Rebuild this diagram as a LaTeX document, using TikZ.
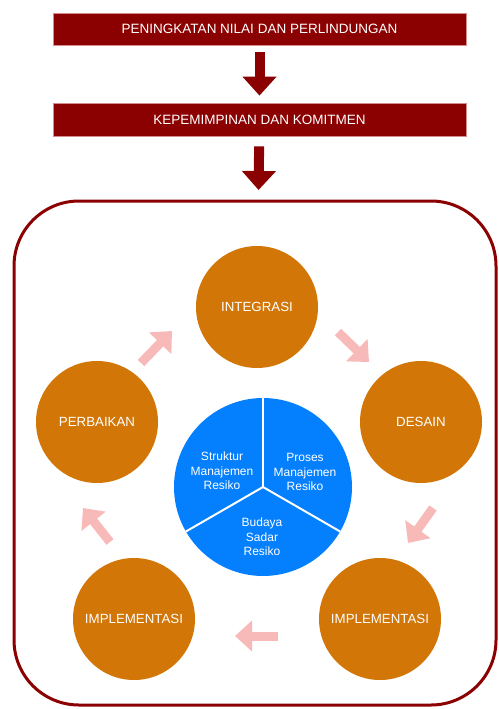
\documentclass[tikz,border=0pt]{standalone}
\usepackage{fontspec}
\setmainfont{Liberation Sans}
\usetikzlibrary{positioning, arrows.meta, calc}

\definecolor{maroon}{RGB}{139,0,0}
\definecolor{boxedge}{RGB}{214,140,140}
\definecolor{ochre}{RGB}{210,118,8}
\definecolor{skyblue}{RGB}{4,128,255}
\definecolor{blush}{RGB}{248,186,184}

\begin{document}
\begin{tikzpicture}[x=1pt, y=-1pt]
				\tikzstyle{banner}=[draw=boxedge, line width=0.8, fill=maroon, text=white, minimum width=413, minimum height=32, font=\fontsize{13.5}{15}\selectfont]
				\tikzstyle{stage}=[circle, fill=ochre, text=white, minimum size=122, inner sep=0, font=\fontsize{13.3}{15}\selectfont]
				\tikzstyle{downarrow}=[maroon, line width=10, -{Triangle[length=19pt, width=33pt]}]
				\tikzstyle{cyclearrow}=[blush, line width=9, -{Triangle[length=17pt, width=30pt]}]
				\tikzstyle{core}=[text=white, align=center, font=\fontsize{12}{14.7}\selectfont]

				\useasboundingbox (0,0) rectangle (498,709);

				\node (nilai) at (259.5,29) [banner] {PENINGKATAN NILAI DAN PERLINDUNGAN};
				\node (komitmen) at (259.5,119.5) [banner, minimum height=33] {KEPEMIMPINAN DAN KOMITMEN};
				\draw [downarrow, shorten <=7, shorten >=7] (nilai) -- (komitmen);

				\node (siklus) at (255,453) [draw=maroon, line width=3, rounded corners=65, minimum width=482, minimum height=504] {};
				\draw [downarrow, shorten <=10, shorten >=9.5] (komitmen) -- (siklus);

				% lingkaran proses
				\node (integrasi) at (257,307) [stage] {INTEGRASI};
				\node (desain) at (421,422) [stage] {DESAIN};
				\node (perbaikan) at (97,422) [stage] {PERBAIKAN};
				\node (implkanan) at (380,619) [stage] {IMPLEMENTASI};
				\node (implkiri) at (134,619) [stage] {IMPLEMENTASI};

				\draw [cyclearrow] (141,363) -- (172,331);
				\draw [cyclearrow] (338,332) -- (369,362);
				\draw [cyclearrow] (433,508) -- (408,543);
				\draw [cyclearrow] (278,636) -- (235,636);
				\draw [cyclearrow] (110,542) -- (83,508);

				% inti
				\node (inti) at (263,487) [circle, fill=skyblue, minimum size=178, inner sep=0, outer sep=0] {};
				\foreach \a in {90,210,330}
					\draw [white, line width=2] (inti.center) -- (inti.\a);
				\node (struktur) at (222,471) [core] {Struktur\\Manajemen\\Resiko};
				\node (proses) at (305,472) [core] {Proses\\Manajemen\\Resiko};
				\node (budaya) at (262,537) [core] {Budaya\\Sadar\\Resiko};
\end{tikzpicture}
\end{document}
